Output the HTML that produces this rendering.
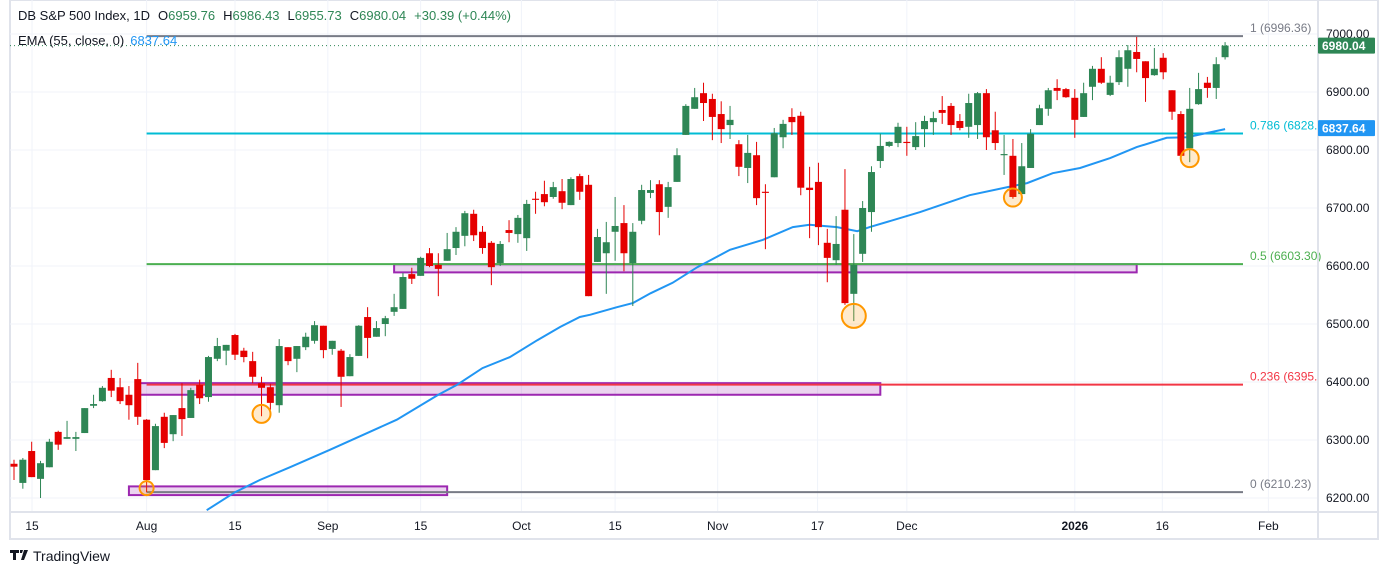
<!DOCTYPE html>
<html><head><meta charset="utf-8"><style>
body{margin:0;background:#fff;width:1388px;height:575px;overflow:hidden;font-family:"Liberation Sans",sans-serif}
svg text{font-family:"Liberation Sans",sans-serif}
</style></head><body>
<svg id="chart" width="1388" height="575" viewBox="0 0 1388 575" xmlns="http://www.w3.org/2000/svg">
<rect x="10" y="0" width="1368" height="539" fill="#fff" stroke="#e0e3eb" stroke-width="2"/>
<g id="grid"></g>
<g id="levels"></g>
<g id="ema"></g>
<g id="candles"></g>
<g id="marks"></g>
<g id="axes"></g>
<text x="18" y="20" font-size="13" fill="#131722">DB S&amp;P 500 Index, 1D<tspan dx="8" fill="#131722">O</tspan><tspan fill="#2e8655">6959.76</tspan><tspan dx="8" fill="#131722">H</tspan><tspan fill="#2e8655">6986.43</tspan><tspan dx="8" fill="#131722">L</tspan><tspan fill="#2e8655">6955.73</tspan><tspan dx="8" fill="#131722">C</tspan><tspan fill="#2e8655">6980.04</tspan><tspan dx="8" fill="#2e8655">+30.39 (+0.44%)</tspan></text>
<text x="18" y="45" font-size="13" fill="#131722">EMA (55, close, 0)<tspan dx="6" fill="#2196f3">6837.64</tspan></text>
<g>
<path d="M10 550h9v3h-3v7h-3v-7h-3z M20 550h3l-1 3h-2z M24 550h4l-4 10h-3z" fill="#131722"/>
<text x="33" y="561" font-size="14" fill="#131722">TradingView</text>
</g>
</svg>
<script>
const opens=[6259,6226,6281,6233,6253,6314,6302,6302,6312,6359,6367,6407,6391,6378,6405,6335,6248,6340,6310,6355,6338,6395,6374,6440,6454,6481,6454,6436,6398,6391,6360,6460,6440,6460,6471,6497,6457,6454,6410,6445,6512,6478,6500,6521,6526,6586,6583,6622,6602,6609,6631,6652,6690,6659,6640,6605,6662,6655,6648,6716,6724,6719,6729,6705,6755,6740,6607,6622,6659,6674,6605,6678,6726,6741,6702,6745,6826,6871,6898,6888,6862,6843,6810,6769,6791,6728,6753,6822,6857,6859,6735,6745,6640,6610,6697,6552,6621,6693,6781,6807,6812,6814,6805,6836,6848,6869,6876,6850,6840,6843,6898,6834,6791,6790,6724,6769,6843,6871,6907,6905,6890,6857,6909,6940,6895,6917,6940,6969,6953,6929,6959,6903,6862,6803,6879,6916,6907,6960];
const highs=[6266,6269,6297,6264,6302,6316,6333,6314,6355,6378,6393,6421,6407,6393,6433,6336,6328,6347,6343,6398,6390,6404,6445,6476,6464,6483,6459,6452,6409,6397,6474,6460,6462,6485,6505,6497,6471,6457,6448,6498,6529,6505,6514,6552,6588,6597,6616,6631,6622,6657,6667,6695,6697,6669,6643,6643,6679,6688,6714,6728,6747,6745,6750,6753,6759,6757,6664,6676,6719,6705,6674,6740,6748,6748,6745,6803,6879,6907,6916,6897,6884,6876,6817,6826,6814,6741,6838,6852,6872,6866,6771,6778,6664,6686,6767,6655,6712,6772,6828,6815,6847,6840,6848,6859,6866,6893,6881,6862,6897,6900,6905,6866,6826,6819,6812,6836,6878,6907,6922,6907,6905,6916,6945,6960,6928,6972,6981,6995,6953,6976,6967,6903,6867,6907,6933,6926,6960,6986];
const lows=[6231,6216,6236,6200,6253,6283,6302,6281,6312,6355,6366,6374,6362,6335,6326,6210,6248,6286,6298,6307,6338,6362,6366,6436,6429,6438,6434,6398,6341,6352,6347,6429,6417,6455,6466,6441,6447,6357,6410,6445,6441,6478,6479,6514,6526,6569,6583,6598,6548,6609,6619,6634,6643,6621,6567,6600,6641,6640,6626,6690,6703,6716,6698,6705,6714,6548,6607,6552,6609,6591,6531,6672,6717,6653,6683,6745,6826,6871,6850,6817,6812,6819,6755,6743,6705,6629,6753,6803,6826,6722,6648,6636,6572,6602,6533,6505,6607,6659,6769,6805,6805,6790,6800,6805,6826,6845,6826,6834,6821,6819,6800,6800,6757,6716,6724,6769,6843,6859,6886,6890,6821,6857,6886,6914,6893,6912,6909,6934,6883,6928,6922,6852,6786,6779,6878,6890,6888,6956];
const closes=[6254,6266,6236,6260,6297,6292,6305,6305,6355,6362,6390,6385,6367,6360,6340,6231,6324,6295,6343,6336,6386,6372,6443,6462,6464,6447,6443,6409,6390,6364,6462,6436,6462,6478,6498,6455,6471,6409,6443,6497,6476,6493,6510,6529,6581,6578,6614,6600,6595,6629,6659,6691,6653,6631,6598,6638,6657,6683,6707,6714,6710,6736,6709,6750,6728,6548,6650,6641,6669,6622,6659,6731,6731,6693,6736,6791,6876,6891,6881,6857,6836,6852,6771,6795,6717,6726,6829,6845,6848,6735,6731,6667,6614,6638,6536,6602,6700,6762,6807,6814,6840,6812,6824,6850,6855,6864,6843,6838,6881,6898,6822,6812,6793,6719,6772,6828,6872,6903,6902,6891,6852,6898,6940,6916,6916,6960,6972,6957,6924,6940,6934,6866,6790,6871,6905,6907,6948,6980.04];
const emaIdx=[21.8,25,27.8,31.2,35.7,43.3,48,50.1,53,56.1,59.2,61.8,64,65.2,68.2,70,72,74.5,77.3,81,84.7,88.1,90,93.1,95.4,96.8,102.5,108.1,113,114.6,117.5,120.6,124,127,130.4,132.7,137];
const emaVals=[6179,6210,6231,6253,6283,6335,6378,6395,6424,6443,6472,6495,6512,6516,6529,6536,6553,6571,6598,6628,6645,6667,6671,6667,6660,6667,6693,6722,6738,6743,6760,6769,6786,6805,6821,6822,6836];
const priceTicks=[6200,6300,6400,6500,6600,6700,6800,6900,7000];
const timeTickIdx=[2.04,15,25,35.5,46,57.4,68,79.6,90.9,101,120,129.9,141.9];
const timeTickLabels=["15","Aug","15","Sep","15","Oct","15","Nov","17","Dec","2026","16","Feb"];
const fibLevels=[6996.36,6828.5,6603.30,6395.5,6210.23];
const fibLabels=["1 (6996.36)","0.786 (6828.","0.5 (6603.30)","0.236 (6395.","0 (6210.23)"];
const fibColors=["#787b86","#00bcd4","#4caf50","#f23645","#787b86"];
const zones=[[6603,6589,43,127],[6398,6378,14,98],[6220,6205,13,49]];
const circleIdx=[15,28,95,113,133];
const circlePrice=[6217,6345,6514,6718,6786];
const lastPrice=6980.04, emaLast=6837.64;

const NS="http://www.w3.org/2000/svg";
const PL=10,PR=1318,PT=0,PB=512;
const y=p=>34+(7000-p)*0.58;
const x=i=>14+i*8.84;
function mk(tag,attrs,parent){const e=document.createElementNS(NS,tag);for(const k in attrs)e.setAttribute(k,attrs[k]);parent.appendChild(e);return e;}
const grid=document.getElementById('grid'),lv=document.getElementById('levels'),emaG=document.getElementById('ema'),cg=document.getElementById('candles'),mg=document.getElementById('marks'),ax=document.getElementById('axes');
priceTicks.forEach(p=>{
  const l=mk('line',{x1:PL,x2:PR,y1:y(p),y2:y(p),stroke:'#f0f3fa','stroke-width':1},grid);
  
  
  const t=mk('text',{x:1326,y:y(p)+4,'font-size':12,fill:'#131722'},ax);
  t.textContent=p.toFixed(2);
  
  
});
timeTickIdx.forEach((i,k)=>{
  const l=mk('line',{x1:x(i),x2:x(i),y1:PT,y2:PB,stroke:'#f0f3fa','stroke-width':1},grid);
  
  
  const t=mk('text',{x:x(i),y:530,'font-size':12,fill:'#131722','text-anchor':'middle','font-weight':timeTickLabels[k]==='2026'?'bold':'normal'},ax);
  t.textContent=timeTickLabels[k];
  
  
});
mk('line',{x1:PL,x2:1378,y1:PB,y2:PB,stroke:'#e0e3eb','stroke-width':2},ax);
mk('line',{x1:PR,x2:PR,y1:0,y2:539,stroke:'#e0e3eb','stroke-width':2},ax);
zones.forEach(z=>{
  const r=mk('rect',{x:x(z[2]),y:y(z[0]),width:x(z[3])-x(z[2]),height:y(z[1])-y(z[0]),fill:'rgba(156,39,176,0.2)',stroke:'#9c27b0','stroke-width':2},lv);
  
  
});
fibLevels.forEach((p,k)=>{
  const l=mk('line',{x1:x(15),x2:1243,y1:y(p),y2:y(p),stroke:fibColors[k],'stroke-width':2},lv);
  
  
  const t=mk('text',{x:1250,y:y(p)-4,'font-size':12,fill:fibColors[k]},lv);
  t.textContent=fibLabels[k];
  
  
});
const dl=mk('line',{x1:PL,x2:PR,y1:y(lastPrice),y2:y(lastPrice),stroke:'#2e8655','stroke-width':1,'stroke-dasharray':'1 3'},lv);


let d='';emaIdx.forEach((i,k)=>{d+=(k?'L':'M')+x(i).toFixed(1)+' '+y(emaVals[k]).toFixed(1);});
const ep=mk('path',{d:d,fill:'none',stroke:'#2196f3','stroke-width':2,'clip-path':'url(#clip)'},emaG);


const cp=mk('clipPath',{id:'clip'},document.getElementById('chart'));
mk('rect',{x:PL,y:0,width:PR-PL,height:PB},cp);
opens.forEach((o,i)=>{
  const c=closes[i],up=c>=o,col=up?'#2e8655':'#e50000',cx=x(i);
  const g=mk('g',{},cg);
  
  
  mk('line',{x1:cx,x2:cx,y1:y(highs[i]),y2:y(lows[i]),stroke:col,'stroke-width':1},g);
  const top=y(Math.max(o,c)),bot=y(Math.min(o,c));
  mk('rect',{x:cx-3.5,y:top,width:7,height:Math.max(1,bot-top),fill:col},g);
});
circleIdx.forEach((i,k)=>{
  const r=k===0?7:(k===2?12:9);
  const ci=mk('circle',{cx:x(i),cy:y(circlePrice[k]),r:r,fill:'rgba(255,152,0,0.2)',stroke:'#ff9800','stroke-width':2},mg);
  
  
});
function box(p,col,name){
  const g=mk('g',{},ax);
  
  
  mk('rect',{x:1318,y:y(p)-8,width:57,height:16,fill:col,rx:1},g);
  const t=mk('text',{x:1322,y:y(p)+4.5,'font-size':12,'font-weight':'bold',fill:'#fff'},g);t.textContent=p.toFixed(2);
}
box(lastPrice,'#2e8655','last-price-label');
box(emaLast,'#2196f3','ema-price-label');
</script>
</body></html>
